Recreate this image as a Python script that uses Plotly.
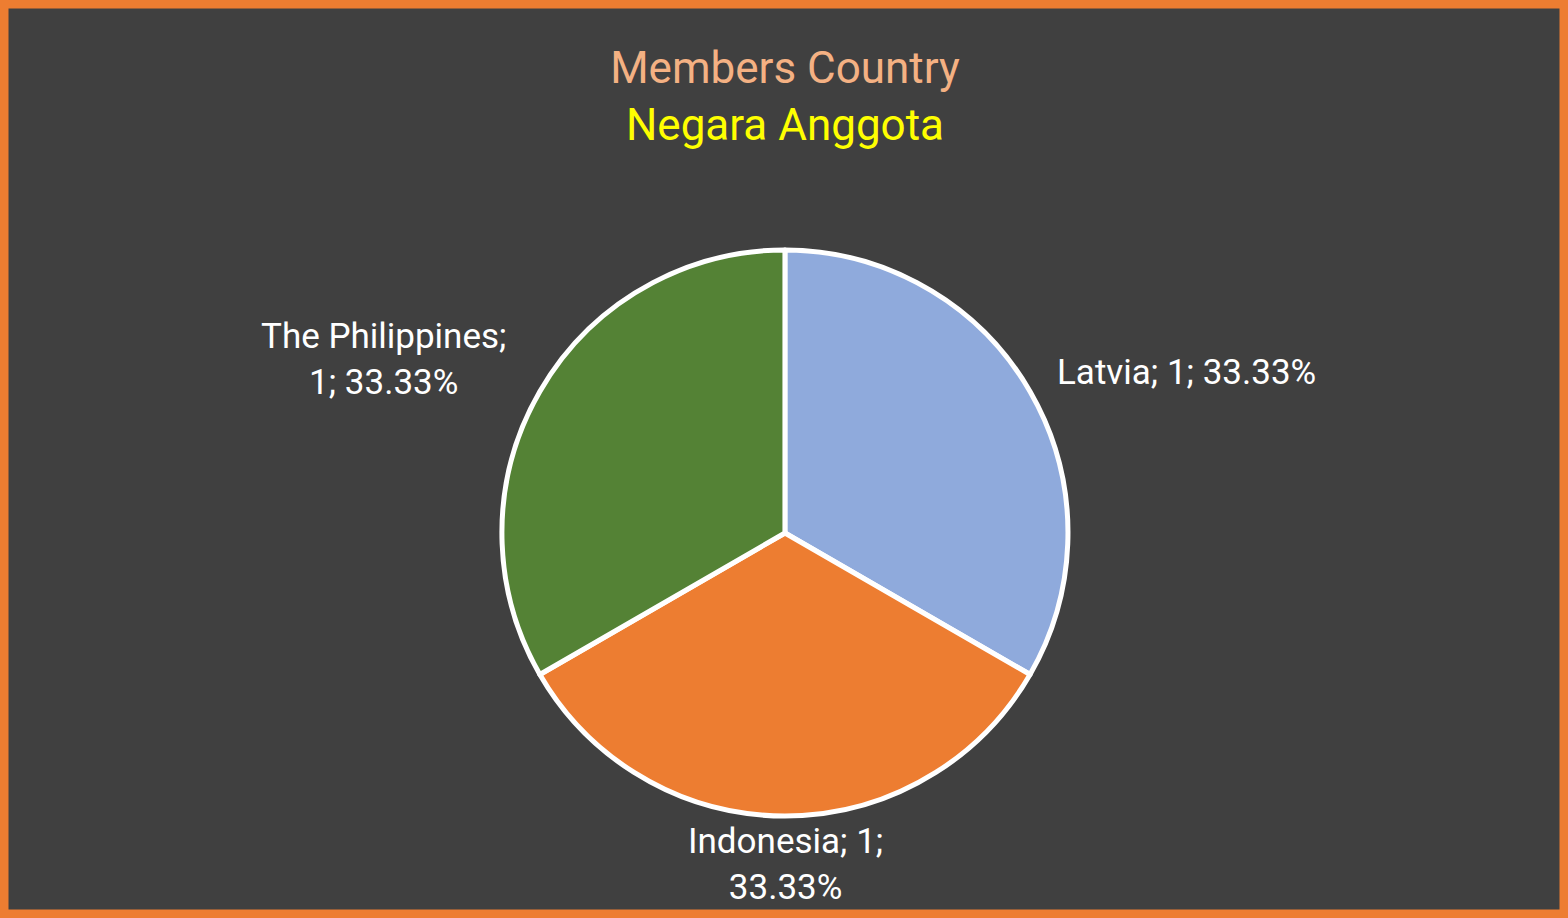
import plotly.graph_objects as go

# Data
countries = ["Latvia", "Indonesia", "The Philippines"]
members = [1, 1, 1]
slice_colors = ["#8FAADC", "#ED7D31", "#548235"]
title_en = "Members Country"
title_id = "Negara Anggota"

W, H = 1568, 918
FONT = "Roboto"

total = sum(members)
pcts = [v / total * 100 for v in members]

fig = go.Figure(go.Pie(
    labels=countries,
    values=members,
    sort=False,
    direction="clockwise",
    rotation=0,
    marker=dict(colors=slice_colors, line=dict(color="white", width=5)),
    textinfo="none",
    hoverinfo="label+value+percent",
    domain=dict(x=[0.3201, 0.6811], y=[0.1111, 0.7277]),
    showlegend=False,
))

# label annotations (text from data), positions in pixels
label_pos = {
    "Latvia": (1186, 373, "{c}; {v}; {p:.2f}%"),
    "Indonesia": (785, 864, "{c}; {v};<br>{p:.2f}%"),
    "The Philippines": (383, 360, "{c};<br>{v}; {p:.2f}%"),
}
for c, v, p in zip(countries, members, pcts):
    px, py, tmpl = label_pos[c]
    fig.add_annotation(
        x=px / W, y=1 - py / H, xref="paper", yref="paper",
        text=tmpl.format(c=c, v=v, p=p), showarrow=False,
        font=dict(family=FONT, size=35, color="white"),
        xanchor="center", yanchor="middle", align="center",
    )

fig.update_layout(
    width=W, height=H,
    margin=dict(l=0, r=0, t=0, b=0),
    paper_bgcolor="#404040",
    plot_bgcolor="#404040",
    title=dict(
        text=f"<span style='color:#F4B183'>{title_en}</span><br><span style='color:#FFFF00'>{title_id}</span>",
        x=785 / W, xanchor="center",
        y=1 - 83 / H, yanchor="middle",
        font=dict(family=FONT, size=44),
    ),
    shapes=[dict(
        type="rect", xref="paper", yref="paper",
        x0=0, y0=0, x1=1, y1=1,
        line=dict(color="#ED7D31", width=17),
        fillcolor="rgba(0,0,0,0)",
    )],
)

fig.write_html(
    "out.html",
    config={"displayModeBar": False},
    post_script="document.body.style.margin='0';document.body.style.overflow='hidden';",
)
